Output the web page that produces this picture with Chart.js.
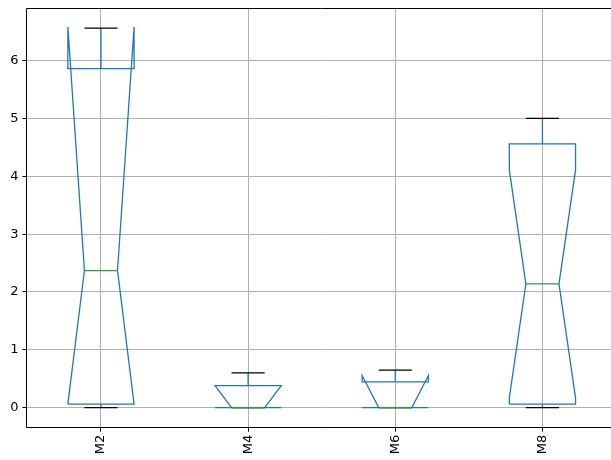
<!DOCTYPE html>
<html><head><meta charset="utf-8">
<script src="https://cdn.jsdelivr.net/npm/chart.js@4/dist/chart.umd.min.js"></script>
<style>html,body{margin:0;padding:0;background:#fff;overflow:hidden}#wrap{width:620px;height:460px}</style>
</head><body><div id="wrap"><canvas id="c" width="620" height="460"></canvas></div>
<script>
const categories = ['M2', 'M4', 'M6', 'M8'];
const whiskerLow = [0, 0, 0, 0];
const q1 = [0.06, 0, 0, 0.06];
const notchLow = [0.06, 0, 0, 0.17];
const median = [2.37, 0, 0, 2.14];
const notchHigh = [6.58, 0.38, 0.555, 4.11];
const q3 = [5.86, 0.38, 0.446, 4.56];
const whiskerHigh = [6.56, 0.6, 0.65, 5.0];
const yTicks = [0, 1, 2, 3, 4, 5, 6];

const BOX_W = 0.45, HALF = BOX_W / 2, NOTCH = BOX_W / 4;
const boxPts = [], whiskPts = [], capPts = [], medPts = [];
categories.forEach((c, i) => {
  const p = i + 1, L = p - HALF, R = p + HALF, nl = p - NOTCH, nr = p + NOTCH;
  boxPts.push({x:L,y:q1[i]},{x:R,y:q1[i]},{x:R,y:notchLow[i]},{x:nr,y:median[i]},{x:R,y:notchHigh[i]},
    {x:R,y:q3[i]},{x:L,y:q3[i]},{x:L,y:notchHigh[i]},{x:nl,y:median[i]},{x:L,y:notchLow[i]},{x:L,y:q1[i]},{x:p,y:null});
  whiskPts.push({x:p,y:q1[i]},{x:p,y:whiskerLow[i]},{x:p,y:null},{x:p,y:q3[i]},{x:p,y:whiskerHigh[i]},{x:p,y:null});
  capPts.push({x:nl,y:whiskerLow[i]},{x:nr,y:whiskerLow[i]},{x:p,y:null},{x:nl,y:whiskerHigh[i]},{x:nr,y:whiskerHigh[i]},{x:p,y:null});
  medPts.push({x:nl,y:median[i]},{x:nr,y:median[i]},{x:p,y:null});
});
const all = [].concat(whiskerLow, q1, notchLow, median, notchHigh, q3, whiskerHigh);
const dMin = Math.min(...all), dMax = Math.max(...all), span = dMax - dMin;

Chart.defaults.font.family = 'DejaVu Sans';
Chart.defaults.font.size = 13;
Chart.defaults.color = '#000';

const ds = (data, color, order) => ({data, borderColor: color, borderWidth: 1.3, pointRadius: 0,
  pointHoverRadius: 0, tension: 0, fill: false, spanGaps: false, order});

const frame = {id:'frame', afterDatasetsDraw(chart){
  const a = chart.chartArea, ctx = chart.ctx;
  const l = Math.round(a.left) - 0.5, r = Math.round(a.right) + 0.5, t = Math.round(a.top) + 0.5, b = Math.round(a.bottom) + 0.5;
  ctx.save(); ctx.strokeStyle = '#000'; ctx.lineWidth = 1;
  ctx.beginPath(); ctx.moveTo(r, t); ctx.lineTo(l, t); ctx.lineTo(l, b); ctx.lineTo(r, b); ctx.stroke();
  ctx.restore();
}};

new Chart(document.getElementById('c'), {
  type: 'line',
  data: {datasets: [
    ds(medPts, '#2ca02c', 0),
    ds(capPts, '#000000', 1),
    ds(whiskPts, '#1f77b4', 2),
    ds(boxPts, '#1f77b4', 3)
  ]},
  options: {
    responsive: false, animation: false, devicePixelRatio: 1,
    layout: {padding: {top: 8, right: 4, left: 0, bottom: 0}},
    plugins: {legend: {display: false}, tooltip: {enabled: false}},
    scales: {
      x: {type: 'linear', min: 0.5, max: categories.length + 0.5,
        afterBuildTicks: s => { s.ticks = categories.map((c, i) => ({value: i + 1})); },
        afterFit: s => { s.height = 33.3; s.paddingLeft = 0; s.paddingRight = 0; },
        ticks: {autoSkip: false, minRotation: 90, maxRotation: 90, padding: 3,
          callback: (v) => categories[Math.round(v) - 1]},
        grid: {color: '#b0b0b0', lineWidth: 1, tickColor: '#000', tickLength: 5},
        border: {display: false}},
      y: {type: 'linear', min: dMin - 0.05 * span, max: dMax + 0.05 * span,
        afterBuildTicks: s => { s.ticks = yTicks.map(v => ({value: v})); },
        afterFit: s => { s.width = 27.4; s.paddingTop = 0; s.paddingBottom = 0; },
        ticks: {padding: 4, callback: v => String(v)},
        grid: {color: '#b0b0b0', lineWidth: 1, tickColor: '#000', tickLength: 5},
        border: {display: false}}
    }
  },
  plugins: [frame]
});
</script></body></html>
